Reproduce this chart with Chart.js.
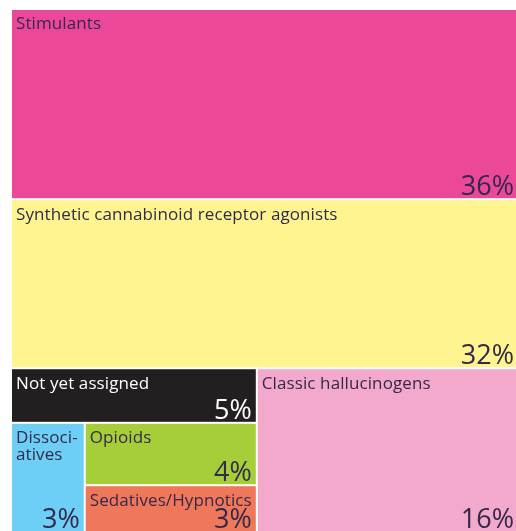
<!DOCTYPE html>
<html>
<head>
<meta charset="utf-8">
<script src="https://cdn.jsdelivr.net/npm/chart.js@4"></script>
<style>
  html, body { margin: 0; padding: 0; background: #fff; overflow: hidden; }
  #wrap { position: absolute; left: 11px; top: 9px; width: 508px; height: 523px; }
</style>
</head>
<body>
<div id="wrap"><canvas id="treeChart" width="508" height="523"></canvas></div>
<script>
const categories = [
	'Stimulants',
	'Synthetic cannabinoid receptor agonists',
	'Not yet assigned',
	'Classic hallucinogens',
	['Dissoci-', 'atives'],
	'Opioids',
	'Sedatives/Hypnotics'
]
const shares = [36, 32, 5, 16, 3, 4, 3]
const percentLabels = shares.map((v) => v + '%')
const fillColors = ['#ec4899', '#fff48f', '#231f20', '#f3a9cc', '#6dcff6', '#a6ce39', '#f0785a']
const textColors = ['#33294a', '#33294a', '#ffffff', '#33294a', '#33294a', '#33294a', '#33294a']

// how the cells nest: 'col' stacks children top to bottom, 'row' puts them side by side
const nesting = ['col', 0, 1, ['row', ['col', 2, ['row', 4, ['col', 5, 6]]], 3]]

function weight(node) {
	if (typeof node === 'number') return shares[node]
	return node.slice(1).reduce((sum, child) => sum + weight(child), 0)
}

function place(node, x0, y0, x1, y1, out) {
	if (typeof node === 'number') {
		out[node] = { x0, y0, x1, y1 }
		return out
	}
	const total = weight(node)
	let pos = node[0] === 'col' ? y0 : x0
	node.slice(1).forEach((child) => {
		const part = weight(child) / total
		if (node[0] === 'col') {
			const next = pos + (y1 - y0) * part
			place(child, x0, pos, x1, next, out)
			pos = next
		} else {
			const next = pos + (x1 - x0) * part
			place(child, pos, y0, next, y1, out)
			pos = next
		}
	})
	return out
}

const cells = place(nesting, 0, 0, 1, 1, [])

const treemapPlugin = {
	id: 'treemap',
	afterDatasetsDraw(chart) {
		const { ctx, scales } = chart
		const gap = 1
		ctx.save()
		cells.forEach((cell, i) => {
			const left = scales.x.getPixelForValue(cell.x0) + gap
			const right = scales.x.getPixelForValue(cell.x1) - gap
			const top = scales.y.getPixelForValue(cell.y0) + gap
			const bottom = scales.y.getPixelForValue(cell.y1) - gap

			ctx.fillStyle = fillColors[i]
			ctx.fillRect(left, top, right - left, bottom - top)

			ctx.fillStyle = textColors[i]
			ctx.font = '500 17px "Open Sans"'
			ctx.letterSpacing = '0.1px'
			ctx.textAlign = 'left'
			ctx.textBaseline = 'top'
			const lines = Array.isArray(categories[i]) ? categories[i] : [categories[i]]
			lines.forEach((line, n) => ctx.fillText(line, left + 4, top + 6 + n * 17))

			ctx.font = '27px "Open Sans"'
			ctx.letterSpacing = '0px'
			ctx.textAlign = 'right'
			ctx.textBaseline = 'alphabetic'
			ctx.fillText(percentLabels[i], right - 4, bottom - 3)
		})
		ctx.restore()
	}
}

const treeChart = new Chart(document.getElementById('treeChart'), {
	type: 'scatter',
	data: { datasets: [{ data: [] }] },
	options: {
		responsive: false,
		animation: false,
		layout: { padding: 0 },
		scales: {
			x: { type: 'linear', min: 0, max: 1, display: false },
			y: { type: 'linear', min: 0, max: 1, reverse: true, display: false }
		},
		plugins: { legend: { display: false }, tooltip: { enabled: false } }
	},
	plugins: [treemapPlugin]
})
</script>
</body>
</html>
